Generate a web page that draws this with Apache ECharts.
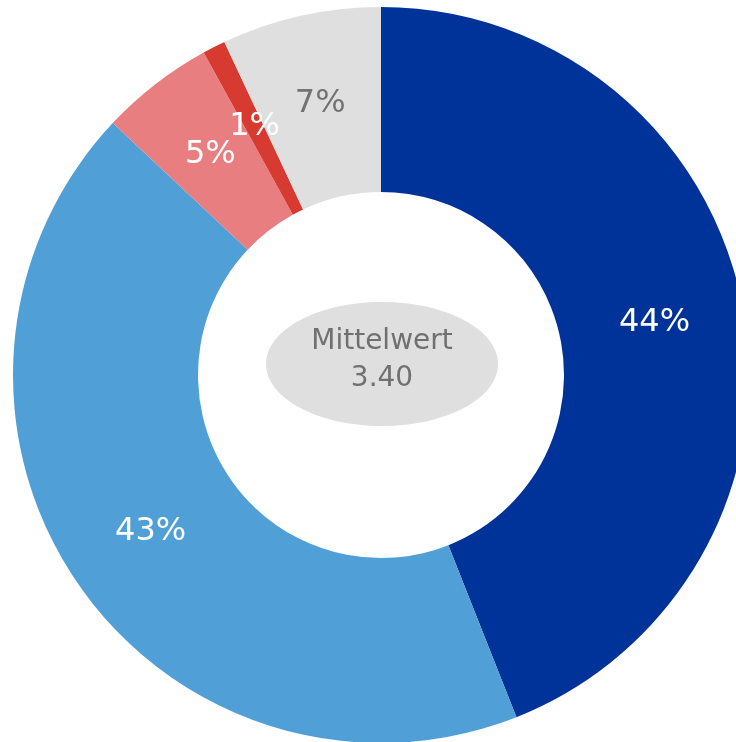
<!DOCTYPE html>
<html>
<head>
<meta charset="utf-8">
<script src="https://cdn.jsdelivr.net/npm/echarts@6/dist/echarts.min.js"></script>
<style>
  html, body { margin: 0; padding: 0; background: #fff; }
  #chart { width: 736px; height: 742px; }
</style>
</head>
<body>
<div id="chart"></div>
<script>
// Anteile im Uhrzeigersinn ab 12 Uhr
const categories = ['4', '3', '2', '1', 'keine Angabe']
const shares = [44, 43, 5, 1, 7]
const sliceColors = ['#003399', '#519fd7', '#e87e80', '#d63a30', '#dfdfdf']
const labelColors = ['#ffffff', '#ffffff', '#ffffff', '#ffffff', '#737373']
const meanTitle = 'Mittelwert'
const meanValue = '3.40'

const myChart = echarts.init(document.getElementById('chart'))

const option = {
  animation: false,
  graphic: [
    {
      type: 'ellipse',
      shape: { cx: 382, cy: 364, rx: 116, ry: 62 },
      style: { fill: '#dfdfdf' },
      z: 10
    },
    {
      type: 'text',
      x: 382,
      y: 360,
      style: {
        text: meanTitle + '\n' + meanValue,
        fill: '#707070',
        font: '28px "DejaVu Sans"',
        lineHeight: 37,
        align: 'center',
        verticalAlign: 'middle'
      },
      z: 11
    }
  ],
  series: [{
    type: 'pie',
    center: [381, 375],
    radius: [183, 368],
    startAngle: 90,
    clockwise: true,
    avoidLabelOverlap: false,
    minShowLabelAngle: 0,
    label: {
      show: true,
      position: 'inside',
      formatter: '{c}%',
      fontFamily: 'DejaVu Sans',
      fontSize: 32
    },
    // sonst wird das 1%-Label ausgeblendet
    labelLayout: { hideOverlap: false },
    labelLine: { show: false },
    emphasis: { disabled: true },
    data: categories.map((name, i) => ({
      name: name,
      value: shares[i],
      itemStyle: { color: sliceColors[i] },
      label: { color: labelColors[i] }
    }))
  }]
}

myChart.setOption(option)
</script>
</body>
</html>
